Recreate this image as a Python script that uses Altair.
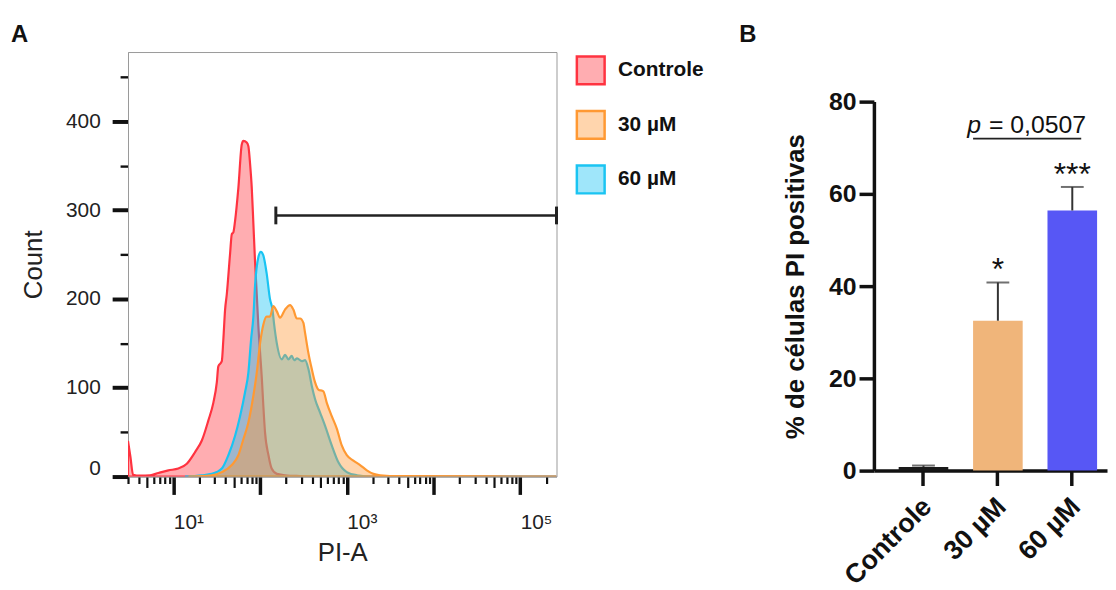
import altair as alt
import pandas as pd

FONT = "Liberation Sans"

# ---------------- Panel A: PI-A histograms ----------------
groups = ["Controle", "30 µM", "60 µM"]
draw_order = ["Controle", "60 µM", "30 µM"]
stroke_colors = ["#ff3340", "#ff9933", "#1ac4f2"]
fill_colors = ["rgba(255,60,70,0.42)", "rgba(255,150,50,0.40)", "rgba(26,196,242,0.42)"]

ctrl_pi = [3.0, 3.2, 3.43, 4.13, 5.39, 6.71, 8.76, 11.4, 14.3, 17.8,
           21.3, 25.3, 28.9, 31.7, 33.0, 36.2, 37.7, 39.5, 41.3, 45.1,
           47.2, 49.2, 51.5, 56.2, 61.5, 64.2, 70.2, 73.3, 76.7, 80.2,
           83.7, 87.5, 91.6, 95.5, 100, 104.6, 109, 114, 125, 136,
           156, 194, 289, 400, 262144]
ctrl_count = [40, 22, 2, 1, 1.5, 4, 7, 9, 14.5, 27.6,
              40.6, 63, 83, 106, 124, 130, 154, 188, 205, 251,
              273, 275, 288, 325, 374, 378, 376, 372, 352, 325,
              285, 242, 205, 170, 140, 112, 80, 50, 24, 9,
              3, 1.5, 0.5, 0, 0]

m60_pi = [13.6, 21.3, 27.7, 36.2, 43.1, 51.5, 58.8, 67.1, 73.3, 78.7,
          83.7, 87.5, 95.5, 102, 109, 119, 130, 139, 145, 156,
          178, 194, 212, 232, 247, 267, 303, 330, 361, 395,
          431, 492, 562, 671, 800, 1000, 1303, 2028, 262144]
m60_count = [0, 1.5, 3, 9, 24, 46, 68, 95, 117, 154,
             180, 215, 247, 253, 249, 229, 200, 188, 172, 150,
             132, 137, 132, 136, 131, 133, 130, 131, 121, 102,
             87, 72, 57, 35, 16, 5, 1.5, 0, 0]

m30_pi = [14.9, 27.7, 36.2, 47.2, 56.2, 64.2, 73.3, 83.7, 91.6, 100,
          109, 119, 130, 142, 156, 170, 194, 222, 242, 265,
          289, 316, 330, 361, 395, 431, 470, 537, 588, 671,
          767, 875, 1000, 1191, 1423, 1702, 2028, 2421, 4121, 262144]
m30_count = [0, 1.5, 5, 13, 24, 42, 61, 91, 117, 150,
             171, 180, 180, 192, 186, 179, 188, 193, 188, 178,
             178, 173, 162, 139, 121, 106, 98, 96, 83, 68,
             54, 35, 24, 18, 13, 7, 3, 1.5, 0.5, 0]

gate_pi = [152, 262144]
gate_count = 294
gate_cap = [284, 304]

rows = []
for g, xs, ys in [("Controle", ctrl_pi, ctrl_count),
                  ("30 µM", m30_pi, m30_count),
                  ("60 µM", m60_pi, m60_count)]:
    for xv, yv in zip(xs, ys):
        rows.append({"group": g, "pi": xv, "count": yv})
hist = pd.DataFrame(rows)

gate_line = pd.DataFrame({"pi": [gate_pi[0]], "pi2": [gate_pi[1]], "count": [gate_count]})
gate_caps = pd.DataFrame({"pi": gate_pi, "count": [gate_cap[0]] * 2, "count2": [gate_cap[1]] * 2})

x_ticks = [m * 10 ** d for d in range(0, 6) for m in range(1, 10) if 3 <= m * 10 ** d <= 262144]
y_ticks = list(range(0, 476, 25))

xscale = alt.Scale(type="log", domain=[3, 262144], nice=False)
yscale = alt.Scale(domain=[0, 478], nice=False)

major_x = "abs(log(datum.value)/LN10 - round(log(datum.value)/LN10)) < 0.0001"
five_x = "abs(log(datum.value/5)/LN10 - round(log(datum.value/5)/LN10)) < 0.0001"

x_axis = alt.Axis(
    values=x_ticks,
    labelExpr="datum.value == 10 ? '10¹' : datum.value == 1000 ? '10³' : datum.value == 100000 ? '10⁵' : ''",
    labelAlign="left", labelBaseline="top", labelFontSize=21, labelColor="#222",
    labelPadding=17, labelOverlap=False, labelFlush=False, labelBound=False,
    tickSize={"condition": [{"test": major_x, "value": 18}, {"test": five_x, "value": 11}], "value": 7},
    tickWidth={"condition": {"test": major_x, "value": 3.5}, "value": 2.2},
    tickColor="#111", domainColor="#9a9a9a", domainWidth=1,
    title="PI-A", titleFontSize=26, titleFontWeight="normal", titleColor="#222", titlePadding=8,
    grid=False,
)
y_axis = alt.Axis(
    values=y_ticks,
    labelExpr="datum.value % 100 == 0 ? datum.label : ''",
    labelFontSize=21, labelColor="#222", labelPadding=12,
    labelOffset={"condition": {"test": "datum.value == 0", "value": -8}, "value": 0},
    tickSize={"condition": {"test": "datum.value % 100 == 0", "value": 16}, "value": 8},
    tickWidth={"condition": {"test": "datum.value % 100 == 0", "value": 4}, "value": 2.4},
    tickColor="#111", domainColor="#9a9a9a", domainWidth=1,
    title="Count", titleFontSize=26, titleFontWeight="normal", titleColor="#222", titlePadding=19,
    grid=False,
)

legend = alt.Legend(
    orient="none", legendX=451, legendY=3, title=None,
    symbolType="square", symbolSize=784, symbolStrokeWidth=2.5,
    labelFontSize=21, labelFontWeight="bold", labelFont=FONT, labelColor="#111",
    labelOffset=12, rowPadding=16, padding=0,
)

fill_enc = alt.Fill("group:N", scale=alt.Scale(domain=groups, range=fill_colors), legend=legend)
stroke_enc = alt.Stroke("group:N", scale=alt.Scale(domain=groups, range=stroke_colors), legend=legend)

layers = []
for g in draw_order:
    layers.append(
        alt.Chart(hist).transform_filter(alt.datum.group == g)
        .mark_area(interpolate="monotone", strokeWidth=2.2, opacity=1, clip=True)
        .encode(
            x=alt.X("pi:Q", scale=xscale, axis=x_axis),
            y=alt.Y("count:Q", scale=yscale, axis=y_axis),
            fill=fill_enc, stroke=stroke_enc,
        )
    )

gate_rule = alt.Chart(gate_line).mark_rule(color="#222", strokeWidth=2.5).encode(
    x=alt.X("pi:Q", scale=xscale), x2="pi2:Q", y=alt.Y("count:Q", scale=yscale)
)
gate_cap_rules = alt.Chart(gate_caps).mark_rule(color="#222", strokeWidth=3).encode(
    x=alt.X("pi:Q", scale=xscale), y=alt.Y("count:Q", scale=yscale), y2="count2:Q"
)

panel_a = alt.layer(*layers, gate_rule, gate_cap_rules).properties(
    width=432, height=428,
    title=alt.TitleParams("A", anchor="start", fontSize=24, fontWeight="bold", font=FONT,
                          color="#111", dx=-10, dy=14, offset=0, baseline="alphabetic"),
    view=alt.ViewBackground(stroke="#9a9a9a", strokeWidth=1),
)

# ---------------- Panel B: bar chart ----------------
cats = ["Controle", "30 µM", "60 µM"]
means = [0.8, 32.5, 56.4]
sds = [0.3, 8.3, 5.1]
bar_colors = ["#1a1a1a", "#F0B57A", "#5757F5"]
stars = ["", "*", "***"]
p_label_sym = "p"
p_label_rest = "= 0,0507"
p_line_y = 72
p_text_y = 73.2

bdf = pd.DataFrame({"group": cats, "mean": means,
                    "upper": [m + s for m, s in zip(means, sds)], "stars": stars})
pdf = pd.DataFrame({"a": ["30 µM"], "b": ["60 µM"], "ly": [p_line_y], "ty": [p_text_y],
                    "sym": [p_label_sym], "rest": [p_label_rest]})

B_H = 422
bscale = alt.Scale(domain=cats, paddingInner=0.3333, paddingOuter=0.233, align=0.714)
byscale = alt.Scale(domain=[0, 80], nice=False, range=[B_H, 50])

bx_axis = alt.Axis(labelAngle=-45, labelAlign="right", labelBaseline="middle",
                   labelFontSize=27, labelFontWeight="bold", labelColor="#111",
                   labelPadding=17, labelOffset=4,
                   tickSize=15, tickWidth=3.5, tickColor="#111",
                   domainWidth=3.5, domainColor="#111", title=None)
by_axis = alt.Axis(values=[0, 20, 40, 60, 80], labelFontSize=25, labelFontWeight="bold",
                   labelColor="#111", labelPadding=3, tickSize=15, tickWidth=3.5, tickColor="#111",
                   domainWidth=3.5, domainColor="#111", grid=False,
                   title="% de células PI positivas", titleFontSize=26, titleFontWeight="bold",
                   titleColor="#111", titlePadding=20)

bars = alt.Chart(bdf).mark_bar().encode(
    x=alt.X("group:N", sort=cats, scale=bscale, axis=bx_axis),
    y=alt.Y("mean:Q", scale=byscale, axis=by_axis),
    color=alt.Color("group:N", scale=alt.Scale(domain=cats, range=bar_colors), legend=None),
)
err = alt.Chart(bdf).mark_rule(color="#333", strokeWidth=2).encode(
    x=alt.X("group:N", sort=cats, scale=bscale), y="mean:Q", y2="upper:Q"
)
caps = alt.Chart(bdf).mark_tick(color="#333", thickness=2, size=23).encode(
    x=alt.X("group:N", sort=cats, scale=bscale), y="upper:Q"
)
star_text = alt.Chart(bdf).mark_text(font=FONT, fontSize=32, dy=-2, baseline="alphabetic", color="#111").encode(
    x=alt.X("group:N", sort=cats, scale=bscale), y="upper:Q", text="stars:N"
)
p_line = alt.Chart(pdf).mark_rule(color="#222", strokeWidth=1.8).encode(
    x=alt.X("a:N", scale=bscale, bandPosition=0), x2=alt.X2("b:N", bandPosition=0.68), y="ly:Q"
)
p_sym = alt.Chart(pdf).mark_text(font=FONT, fontSize=25, fontStyle="italic", align="left",
                                 baseline="alphabetic", dx=-6, color="#111").encode(
    x=alt.X("a:N", scale=bscale, bandPosition=0), y="ty:Q", text="sym:N"
)
p_rest = alt.Chart(pdf).mark_text(font=FONT, fontSize=25, align="left",
                                  baseline="alphabetic", dx=16, color="#111").encode(
    x=alt.X("a:N", scale=bscale, bandPosition=0), y="ty:Q", text="rest:N"
)

panel_b = alt.layer(bars, err, caps, star_text, p_line, p_sym, p_rest).properties(
    width=235, height=B_H,
    title=alt.TitleParams("B", anchor="start", fontSize=24, fontWeight="bold", font=FONT,
                          color="#111", dx=-44, dy=14, offset=0, baseline="alphabetic"),
    view=alt.ViewBackground(stroke="transparent"),
)

chart = alt.hconcat(panel_a, panel_b, spacing=181).properties(
    padding={"left": 2, "top": 12, "right": 0, "bottom": 0}
).configure(font=FONT).configure_axis(labelFont=FONT, titleFont=FONT)

chart.save("out.html", embed_options={"renderer": "svg", "actions": False})
